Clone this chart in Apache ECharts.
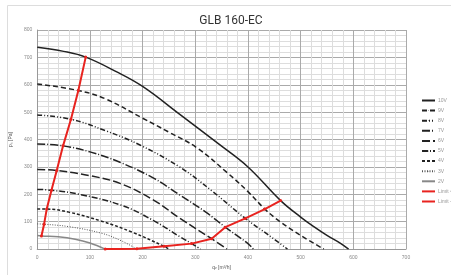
<!DOCTYPE html>
<html>
<head>
<meta charset="utf-8">
<script src="https://cdn.jsdelivr.net/npm/echarts@6/dist/echarts.min.js"></script>
<style>
  html, body { margin: 0; padding: 0; background: #fff; }
  #main { width: 451px; height: 275px; }
</style>
</head>
<body>
<div id="main"></div>
<script>
// fan curves, [q m3/h, ps Pa]
const v10 = [[0, 737], [50, 722], [92, 701], [150, 648], [200, 594], [270, 493], [345, 383], [400, 300], [462, 177], [500, 117], [525, 82], [550, 50], [575, 22], [591, 0]];
const v9 = [[0, 603], [78, 579], [129, 549], [200, 478], [250, 427], [303, 370], [360, 280], [400, 210], [432, 146], [461, 100], [500, 50], [544, 0]];
const v8 = [[0, 490], [64, 474], [130, 432], [195, 380], [271, 299], [330, 215], [395, 112], [440, 50], [475, 0]];
const v7 = [[0, 384], [49, 377], [100, 355], [157, 317], [220, 260], [271, 197], [320, 135], [357, 80], [400, 20], [410, 0]];
const v6 = [[0, 291], [37, 287], [100, 268], [157, 240], [220, 180], [271, 112], [331, 38], [360, 0]];
const v5 = [[0, 218], [27, 215], [80, 200], [160, 160], [220, 105], [271, 45], [293, 20], [310, 0]];
const v4 = [[0, 146], [18, 146], [60, 135], [122, 102], [180, 62], [241, 10], [250, 0]];
const v3 = [[0, 92], [13, 91], [60, 82], [122, 58], [160, 30], [189, 0]];
const v2 = [[0, 50], [8, 48], [40, 45], [72, 36], [100, 22], [129, 0]];
// limit lines
const limitLeft = [[8, 48], [13, 91], [18, 146], [27, 215], [37, 287], [49, 377], [64, 474], [78, 579], [92, 701]];
const limitRight = [[129, 0], [189, 1], [241, 10], [293, 20], [331, 38], [357, 80], [395, 112], [432, 146], [462, 177]];

const names = ['10V', '9V', '8V', '7V', '6V', '5V', '4V', '3V', '2V', 'Limit <-', 'Limit ->'];

function curve(name, data, type, color, width) {
  return {
    name: name,
    type: 'line',
    data: data,
    smooth: 0.4,
    showSymbol: false,
    symbol: 'none',
    lineStyle: { color: color, width: width, type: type },
    itemStyle: { color: color },
    z: 3
  };
}

function limit(name, data) {
  return {
    name: name,
    type: 'line',
    data: data,
    symbol: 'circle',
    symbolSize: 3,
    lineStyle: { color: '#e8231f', width: 2 },
    itemStyle: { color: '#e8231f' },
    z: 5
  };
}

const chart = echarts.init(document.getElementById('main'));
chart.setOption({
  animation: false,
  title: {
    text: 'GLB 160-EC',
    left: 226,
    top: 10,
    textAlign: 'center',
    textStyle: { fontSize: 12, fontWeight: 'normal', color: '#333', fontFamily: 'Roboto' }
  },
  graphic: [{
    type: 'rect',
    shape: { x: 7.5, y: 5.5, width: 460, height: 280 },
    style: { fill: 'none', stroke: '#ddd', lineWidth: 1 },
    silent: true
  }],
  grid: { left: 37, right: 45, top: 30, bottom: 24 },
  legend: {
    orient: 'vertical',
    left: 416,
    top: 93,
    data: names,
    itemWidth: 13,
    itemHeight: 1,
    itemGap: 5.1,
    textStyle: { fontSize: 5, color: '#999', padding: [0, 0, 0, -2] }
  },
  xAxis: {
    type: 'value',
    min: 0,
    max: 700,
    interval: 100,
    name: 'q\u1d65 [m\u00b3/h]',
    nameLocation: 'middle',
    nameGap: 15,
    nameTextStyle: { fontSize: 5, color: '#555' },
    axisLine: { show: true, onZero: false, lineStyle: { color: '#999', width: 1 } },
    axisTick: { show: false },
    axisLabel: { fontSize: 5, color: '#888', margin: 6 },
    splitLine: { show: true, lineStyle: { color: '#aaa', width: 1 } },
    minorTick: { show: false, splitNumber: 5 },
    minorSplitLine: { show: true, lineStyle: { color: '#ddd', width: 1 } }
  },
  yAxis: {
    type: 'value',
    min: 0,
    max: 800,
    interval: 100,
    name: 'p\u209b [Pa]',
    nameLocation: 'middle',
    nameGap: 15,
    nameRotate: 90,
    nameTextStyle: { fontSize: 5, color: '#555' },
    axisLine: { show: true, lineStyle: { color: '#999', width: 1 } },
    axisTick: { show: false },
    axisLabel: { fontSize: 5, color: '#888', margin: 5 },
    splitLine: { show: true, lineStyle: { color: '#aaa', width: 1 } },
    minorTick: { show: false, splitNumber: 5 },
    minorSplitLine: { show: true, lineStyle: { color: '#ddd', width: 1 } }
  },
  series: [
    curve('10V', v10, 'solid', '#222', 1.5),
    curve('9V', v9, [5, 3], '#222', 1.5),
    curve('8V', v8, [5, 2, 1, 2, 1, 2], '#222', 1.5),
    curve('7V', v7, [8, 2, 1, 2], '#222', 1.5),
    curve('6V', v6, [8, 3], '#222', 1.5),
    curve('5V', v5, [6, 2, 1, 2], '#222', 1.5),
    curve('4V', v4, [3, 2], '#222', 1.5),
    curve('3V', v3, [1, 1.5], '#555', 1),
    curve('2V', v2, 'solid', '#888', 1.5),
    limit('Limit <-', limitLeft),
    limit('Limit ->', limitRight)
  ]
});
</script>
</body>
</html>
